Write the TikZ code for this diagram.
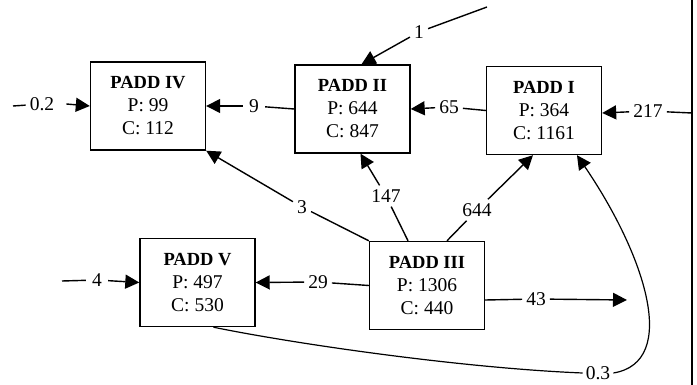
\documentclass[tikz,border=0pt]{standalone}
\usepackage{fontspec}
\setmainfont{Liberation Serif}
\usetikzlibrary{arrows.meta,calc}
\newcommand{\ptitle}[1]{{\fontsize{18.5}{23}\selectfont\bfseries #1}}
\begin{document}
\begin{tikzpicture}[x=1pt,y=-1pt,
  padd/.style={draw,line width=1.4pt,minimum width=115pt,minimum height=88pt,
    align=center,inner sep=0pt,font=\fontsize{19.5}{23}\selectfont},
  lbl/.style={inner sep=4pt,font=\fontsize{19.5}{20}\selectfont},
  ln/.style={line width=1.4pt},
  arr/.style={ln,-{Triangle[length=14pt,width=14pt]}}]
\useasboundingbox (0,0) rectangle (697,385);
% boxes
\node[padd] (p4) at (148,106) {\ptitle{PADD IV}\\P: 99\\C: 112};
\node[padd] (p2) at (352.5,109) {\ptitle{PADD II}\\P: 644\\C: 847};
\node[padd] (p1) at (544,110.5) {\ptitle{PADD I}\\P: 364\\C: 1161};
\node[padd] (p5) at (197.5,282.5) {\ptitle{PADD V}\\P: 497\\C: 530};
\node[padd] (p3) at (427,285.5) {\ptitle{PADD III}\\P: 1306\\C: 440};
% right border line
\coordinate (rt) at (692,0);
\coordinate (rb) at (692,385);
\draw[line width=1.2pt] (rt) -- (rb);
% free ends
\coordinate (s02) at (13,106);
\coordinate (s4) at (62,281);
\coordinate (s217) at (692,113);
\coordinate (s1) at (487,7);
\coordinate (e43) at (627,300);
% labels
\node[lbl] (l02) at (42,104) {0.2};
\node[lbl,inner sep=6pt] (l4) at (97,280) {4};
\node[lbl,inner sep=6pt] (l9) at (254,106) {9};
\node[lbl] (l65) at (449,107) {65};
\node[lbl] (l217) at (648,111) {217};
\node[lbl] (l1) at (419,32) {1};
\node[lbl] (l3) at (302,207) {3};
\node[lbl] (l147) at (386,196) {147};
\node[lbl] (l644) at (477,210) {644};
\node[lbl] (l29) at (318,282) {29};
\node[lbl] (l43) at (536,299) {43};
\node[lbl,inner sep=3pt] (l03) at (598,373) {0.3};
% connectors
\draw[ln] (s02) -- (l02); \draw[arr] ([xshift=8]l02.east) -- (p4.west);
\draw[ln] (s4) -- (l4); \draw[arr] (l4) -- (p5.west);
\draw[ln] (p2.west) -- (l9); \draw[arr] (l9) -- (p4.east);
\draw[ln] (p1.west) -- (l65); \draw[arr] (l65) -- (p2.east);
\draw[ln] (s217) -- (l217); \draw[arr] (l217) -- (p1.east |- s217);
\draw[ln] (s1) -- (l1); \draw[arr] (l1) -- ([xshift=9]p2.north);
\draw[ln] (p3.north west) -- (l3); \draw[arr] (l3) -- (p4.south east);
\draw[ln] ([xshift=-19]p3.north) -- (l147); \draw[arr] (l147) -- ([xshift=8]p2.south);
\draw[ln] ([xshift=20]p3.north) -- (l644); \draw[arr] (l644) -- ([xshift=-11]p1.south);
\draw[ln] (p3.west) -- (l29); \draw[arr] (l29) -- (p5.east);
\draw[ln] (p3.east |- e43) -- (l43); \draw[arr] (l43) -- (e43);
\draw[line width=1.2pt] ([xshift=16]p5.south) .. controls (290,343) and (460,368) .. (l03.west);
\draw[line width=1.2pt,-{Triangle[length=14pt,width=14pt]}] (l03.east) .. controls (680,362) and (645,255) .. ([xshift=33]p1.south);
\end{tikzpicture}
\end{document}
